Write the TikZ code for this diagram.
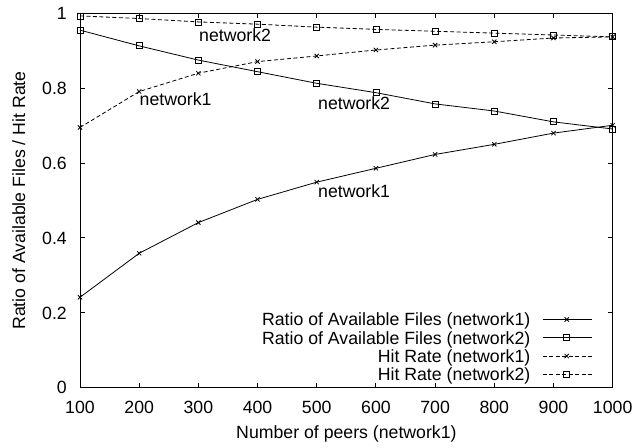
\documentclass[tikz,border=0pt]{standalone}
\usepackage{fontspec}
\setmainfont{Liberation Sans}
\usetikzlibrary{plotmarks}

\begin{document}
\begin{tikzpicture}[x=1pt,y=1pt,
  lbl/.style={font=\fontsize{17.7}{21}\selectfont, inner sep=0pt},
  axisline/.style={line width=0.9pt},
  curve/.style={line width=0.8pt, mark size=3pt,
    mark options={solid, line width=0.8pt}},
  hitline/.style={curve, dash pattern=on 4pt off 2.5pt}]
\useasboundingbox (0,0) rectangle (634,447);

% data area: x in peers, y in ratio
\begin{scope}[shift={(20.815pt,59.3pt)}, x=0.59185pt, y=374.4pt]
  % frame and ticks
  \draw[axisline] (100,0) rectangle (1000,1);
  \foreach \n in {100,200,...,1000} {
    \draw[axisline] (\n,0) -- ++(0,5pt);
    \draw[axisline] (\n,1) -- ++(0,-5pt);
    \node[lbl, anchor=base] (xt\n) at ([yshift=-25.6pt]\n,0) {\n};
  }
  \foreach \v/\t in {0/0,0.2/0.2,0.4/0.4,0.6/0.6,0.8/0.8,1/1} {
    \draw[axisline] (100,\v) -- ++(5pt,0);
    \draw[axisline] (1000,\v) -- ++(-5pt,0);
    \node[lbl, anchor=base east] (yt\t) at ([xshift=-13pt,yshift=-6.3pt]100,\v) {\t};
  }

  % ratio of available files
  \draw[curve] plot[mark=x] coordinates {
    (100,0.2415) (200,0.359) (300,0.441) (400,0.503) (500,0.549)
    (600,0.586) (700,0.623) (800,0.650) (900,0.680) (1000,0.701)};
  \draw[curve] plot[mark=square] coordinates {
    (100,0.955) (200,0.913) (300,0.875) (400,0.844) (500,0.813)
    (600,0.788) (700,0.758) (800,0.739) (900,0.710) (1000,0.691)};
  % hit rate
  \draw[hitline] plot[mark=x] coordinates {
    (100,0.695) (200,0.791) (300,0.840) (400,0.871) (500,0.886)
    (600,0.902) (700,0.915) (800,0.924) (900,0.934) (1000,0.937)};
  \draw[hitline] plot[mark=square] coordinates {
    (100,0.993) (200,0.986) (300,0.977) (400,0.971) (500,0.963)
    (600,0.957) (700,0.952) (800,0.947) (900,0.942) (1000,0.937)};
\end{scope}

% curve labels
\node[lbl, anchor=base west] (hn2) at (199,405) {network2};
\node[lbl, anchor=base west] (hn1) at (139.5,341) {network1};
\node[lbl, anchor=base west] (rn2) at (318,337) {network2};
\node[lbl, anchor=base west] (rn1) at (318,249.7) {network1};

% axis titles
\node[lbl, anchor=base] (xtitle) at (346.4,8.7) {Number of peers (network1)};
\node[lbl, anchor=base, rotate=90] (ytitle) at (25,246.5) {Ratio of Available Files / Hit Rate};

% key
\foreach \i/\txt/\st/\mk in {
    0/Ratio of Available Files (network1)/curve/x,
    1/Ratio of Available Files (network2)/curve/square,
    2/Hit Rate (network1)/hitline/x,
    3/Hit Rate (network2)/hitline/square} {
  \pgfmathsetmacro{\ky}{127.5-18.3*\i}
  \node[lbl, anchor=base east] (key\i) at (530.5,\ky-6.3) {\txt};
  \coordinate (ka\i) at (542.7,\ky);
  \coordinate (kb\i) at (591.7,\ky);
  \draw[\st] (ka\i) -- (kb\i);
  \path[curve] plot[mark=\mk] coordinates {(566.7,\ky)};
}
\end{tikzpicture}
\end{document}
